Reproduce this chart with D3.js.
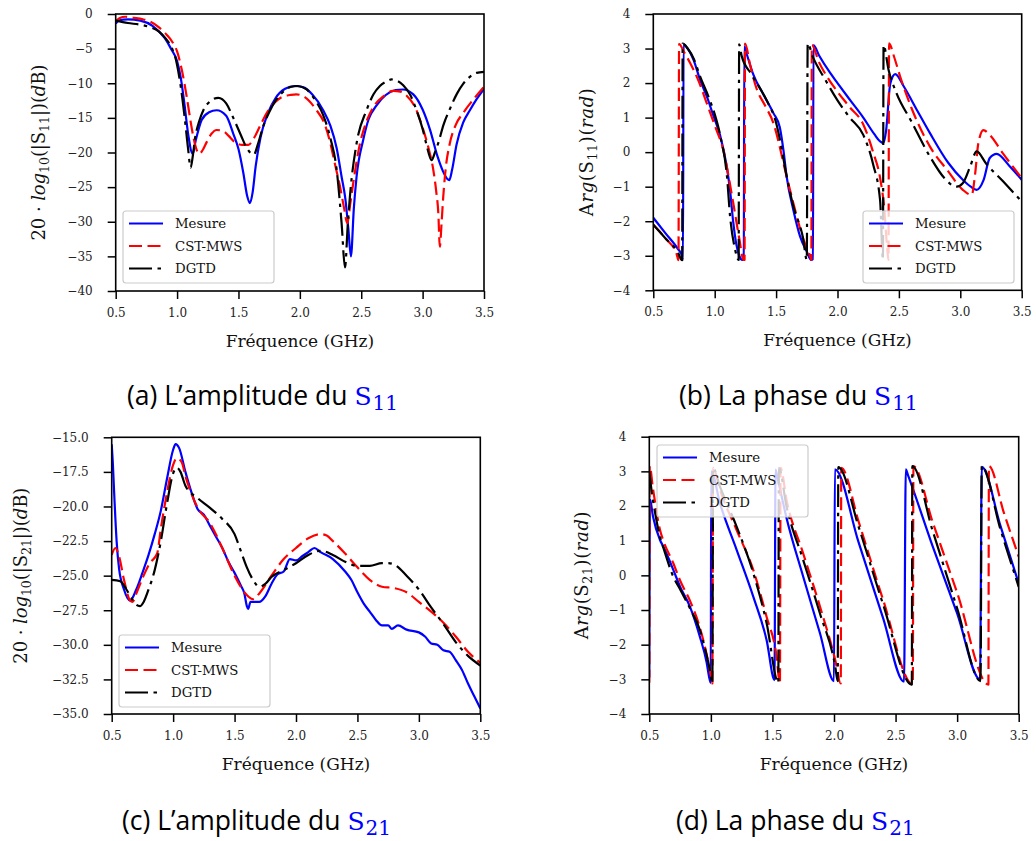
<!DOCTYPE html>
<html><head><meta charset="utf-8">
<script src="https://cdn.jsdelivr.net/npm/d3@7"></script>
<style>
body{margin:0;background:#fff;}
svg text{font-family:"DejaVu Serif",serif;}
</style></head><body>
<svg id="fig" width="1036" height="841"></svg>
<script>
// ---------- DATA ----------
const seriesNames = ["Mesure", "CST-MWS", "DGTD"];
const freqTicks = [0.5, 1.0, 1.5, 2.0, 2.5, 3.0, 3.5];
const ticksS11Mag = [0, -5, -10, -15, -20, -25, -30, -35, -40];
const ticksPhase = [4, 3, 2, 1, 0, -1, -2, -3, -4];
const ticksS21Mag = [-15, -17.5, -20, -22.5, -25, -27.5, -30, -32.5, -35];

// (a) |S11| dB
const s11MagMesure = [[0.50,-1.4],[0.52,-1.0],[0.56,-0.8],[0.6,-0.77],[0.7,-0.95],[0.8,-1.7],[0.9,-3.5],[0.95,-5.0],[1.0,-6.8],[1.03,-9.2],[1.06,-13],[1.09,-17.3],[1.127,-20.2],[1.15,-18.4],[1.2,-15.3],[1.26,-14.2],[1.322,-13.9],[1.4,-14.7],[1.458,-17.3],[1.5,-19.5],[1.54,-23],[1.57,-26.2],[1.594,-27.3],[1.615,-25.8],[1.64,-22],[1.68,-17.8],[1.74,-14.3],[1.8,-12.2],[1.88,-10.8],[1.96,-10.4],[2.03,-10.6],[2.1,-11.6],[2.19,-13.9],[2.25,-16.2],[2.3,-19.4],[2.34,-23.5],[2.37,-26.6],[2.395,-31],[2.416,-35],[2.44,-28],[2.462,-23.5],[2.516,-18.2],[2.56,-15.2],[2.625,-13.2],[2.7,-11.7],[2.78,-11.0],[2.84,-10.9],[2.924,-11.6],[3.0,-13.8],[3.06,-16.7],[3.12,-20.5],[3.168,-22.8],[3.2,-23.8],[3.217,-24],[3.24,-22.5],[3.277,-18.8],[3.33,-15.7],[3.385,-13.9],[3.44,-12.3],[3.5,-10.8]];
const s11MagCST = [[0.50,-1.1],[0.53,-0.6],[0.58,-0.4],[0.65,-0.55],[0.72,-0.75],[0.78,-1.1],[0.85,-1.9],[0.915,-3.0],[0.96,-4.0],[1.0,-5.4],[1.04,-8.2],[1.078,-11.9],[1.11,-15.5],[1.132,-17.7],[1.155,-19.4],[1.18,-20.2],[1.21,-19.6],[1.241,-18.5],[1.28,-17.3],[1.322,-16.75],[1.376,-16.9],[1.42,-17.6],[1.47,-18.5],[1.53,-18.9],[1.58,-18.9],[1.63,-17.8],[1.675,-16.2],[1.73,-14.3],[1.8,-12.7],[1.865,-11.9],[1.92,-11.7],[1.97,-11.6],[2.04,-12.0],[2.136,-13.9],[2.2,-15.8],[2.245,-18.4],[2.29,-22],[2.327,-24.9],[2.36,-28],[2.386,-30.2],[2.41,-27.5],[2.435,-24.4],[2.49,-18.7],[2.55,-15.2],[2.6,-13.4],[2.68,-11.9],[2.76,-11.1],[2.82,-11.2],[2.87,-11.8],[2.94,-13.5],[3.005,-16.7],[3.05,-19.5],[3.087,-22.5],[3.11,-25.5],[3.128,-28.8],[3.14,-33.6],[3.155,-30],[3.168,-26.4],[3.19,-22],[3.22,-18.8],[3.27,-16.0],[3.33,-14.3],[3.42,-12.2],[3.5,-10.5]];
const s11MagDGTD = [[0.50,-0.96],[0.6,-1.3],[0.7,-1.55],[0.78,-1.9],[0.85,-2.5],[0.915,-3.7],[0.96,-5.0],[0.997,-7.1],[1.03,-10.5],[1.064,-15.3],[1.09,-19.5],[1.11,-22.2],[1.128,-20.5],[1.146,-18.0],[1.18,-15.5],[1.214,-13.9],[1.27,-12.6],[1.336,-12.1],[1.4,-12.9],[1.458,-15.0],[1.52,-17.5],[1.566,-19.3],[1.625,-20.3],[1.66,-18.7],[1.7,-16.3],[1.75,-14.2],[1.81,-12.3],[1.865,-11.2],[1.93,-10.5],[1.98,-10.4],[2.055,-10.9],[2.12,-12.3],[2.19,-14.6],[2.25,-18],[2.3,-22.5],[2.34,-30.2],[2.368,-36.6],[2.39,-30.5],[2.41,-25.9],[2.462,-18.7],[2.543,-13.9],[2.6,-11.6],[2.652,-10.4],[2.7,-9.8],[2.747,-9.45],[2.8,-9.7],[2.842,-10.3],[2.9,-11.7],[2.95,-13.9],[3.0,-16.6],[3.032,-18.9],[3.073,-21.1],[3.1,-20],[3.128,-18.6],[3.17,-16.0],[3.22,-13.8],[3.28,-11.5],[3.33,-10.1],[3.39,-9.0],[3.44,-8.5],[3.5,-8.35]];

// (b) Arg(S11) rad
const s11PhaseMesure = [[0.5,-1.9],[0.6,-2.35],[0.7,-2.8],[0.73,-2.97],[0.742,-3.12],[0.746,3.12],[0.78,3.0],[0.83,2.65],[0.88,2.1],[0.935,1.62],[0.99,1.05],[1.043,0.5],[1.098,-0.42],[1.125,-1.1],[1.15,-2.0],[1.175,-2.65],[1.2,-3.0],[1.225,-3.12],[1.237,-3.1],[1.241,3.06],[1.26,2.85],[1.314,2.25],[1.4,1.65],[1.478,1.13],[1.53,0.72],[1.56,0.05],[1.586,-0.71],[1.64,-1.67],[1.695,-2.44],[1.75,-2.88],[1.785,-3.12],[1.8,-3.1],[1.804,3.1],[1.85,2.8],[1.939,2.3],[2.0,2.0],[2.1,1.52],[2.21,1.0],[2.3,0.52],[2.347,0.31],[2.374,0.26],[2.395,0.6],[2.43,1.99],[2.47,2.26],[2.54,1.9],[2.65,1.2],[2.753,0.55],[2.9,-0.3],[3.02,-0.8],[3.085,-1.0],[3.133,-1.09],[3.19,-0.8],[3.24,-0.17],[3.296,-0.05],[3.4,-0.4],[3.5,-0.8]];
const s11PhaseCST = [[0.5,-2.1],[0.6,-2.5],[0.69,-2.95],[0.705,-3.13],[0.71,3.13],[0.75,2.9],[0.8,2.58],[0.87,2.05],[0.935,1.42],[1.0,0.78],[1.07,0.06],[1.15,-1.45],[1.2,-2.5],[1.235,-3.12],[1.243,-3.12],[1.247,3.14],[1.29,2.5],[1.34,1.85],[1.41,1.35],[1.478,0.84],[1.52,0.3],[1.56,-0.32],[1.64,-1.47],[1.72,-2.5],[1.776,-3.0],[1.787,-3.12],[1.791,3.1],[1.85,2.6],[1.93,2.1],[2.0,1.75],[2.1,1.3],[2.21,0.8],[2.29,0.0],[2.347,-0.75],[2.38,-1.6],[2.405,-2.8],[2.415,-3.12],[2.42,3.15],[2.46,2.77],[2.51,2.19],[2.6,1.3],[2.753,0.16],[2.9,-0.55],[3.02,-1.09],[3.093,-1.24],[3.12,-0.65],[3.147,0.26],[3.188,0.64],[3.24,0.5],[3.35,-0.05],[3.5,-0.75]];
const s11PhaseDGTD = [[0.5,-2.1],[0.6,-2.5],[0.7,-2.9],[0.735,-3.13],[0.739,3.14],[0.78,3.0],[0.83,2.7],[0.88,2.2],[0.95,1.6],[1.0,1.1],[1.05,0.4],[1.1,-0.7],[1.125,-1.85],[1.165,-2.8],[1.195,-3.12],[1.199,3.12],[1.22,2.78],[1.3,2.25],[1.423,1.5],[1.5,0.85],[1.532,0.35],[1.586,-0.7],[1.64,-1.56],[1.72,-2.5],[1.75,-3.12],[1.757,3.15],[1.8,2.75],[1.9,2.1],[2.0,1.5],[2.1,1.0],[2.21,0.5],[2.29,-0.35],[2.347,-1.4],[2.37,-3.12],[2.375,3.1],[2.416,2.38],[2.48,1.71],[2.6,0.9],[2.753,-0.13],[2.87,-0.75],[2.97,-1.0],[3.02,-0.9],[3.08,-0.42],[3.133,0.02],[3.21,-0.33],[3.35,-0.85],[3.5,-1.43]];

// (c) |S21| dB
const s21MagMesure = [[0.5,-15.5],[0.51,-17],[0.52,-19],[0.54,-22.5],[0.56,-24.5],[0.6,-26.0],[0.65,-26.8],[0.7,-26.0],[0.75,-24.8],[0.8,-23.5],[0.85,-22],[0.9,-20.3],[0.95,-18],[1.0,-15.9],[1.02,-15.5],[1.05,-15.8],[1.1,-17.5],[1.15,-19],[1.2,-20.2],[1.25,-20.6],[1.3,-21.4],[1.35,-22.2],[1.4,-23],[1.45,-24],[1.5,-24.8],[1.55,-25.7],[1.58,-26.3],[1.6,-27.2],[1.61,-27.4],[1.63,-26.9],[1.7,-26.9],[1.75,-26.5],[1.8,-25.6],[1.85,-24.9],[1.9,-24.7],[1.95,-23.8],[2.0,-23.9],[2.05,-23.6],[2.1,-23.3],[2.15,-23.0],[2.2,-23.3],[2.3,-23.8],[2.4,-24.7],[2.45,-25.3],[2.5,-26.2],[2.55,-27],[2.6,-27.6],[2.65,-28.2],[2.7,-28.6],[2.75,-28.6],[2.78,-28.85],[2.83,-28.6],[2.9,-28.9],[3.0,-29.1],[3.05,-29.4],[3.1,-29.9],[3.15,-30.0],[3.2,-30.4],[3.25,-30.5],[3.3,-31.1],[3.35,-31.8],[3.4,-32.8],[3.45,-33.7],[3.5,-34.6]];
const s21MagCST = [[0.5,-23.5],[0.53,-23.0],[0.56,-23.6],[0.6,-25.3],[0.65,-26.8],[0.67,-26.9],[0.7,-26.3],[0.75,-25.2],[0.81,-24.1],[0.87,-23.4],[0.9,-21.6],[0.95,-19],[1.0,-17],[1.03,-16.5],[1.07,-16.8],[1.1,-17.8],[1.15,-19.1],[1.2,-20.1],[1.3,-21.2],[1.4,-23],[1.5,-25],[1.6,-26.4],[1.65,-26.7],[1.7,-26.3],[1.8,-25],[1.9,-23.8],[2.0,-23],[2.1,-22.3],[2.2,-22.0],[2.25,-22.1],[2.3,-22.5],[2.4,-23.4],[2.5,-24.4],[2.6,-25.3],[2.7,-25.8],[2.8,-25.9],[2.9,-26.2],[3.0,-26.9],[3.1,-27.6],[3.2,-28.4],[3.3,-29.4],[3.4,-30.5],[3.5,-31.3]];
const s21MagDGTD = [[0.5,-25.3],[0.57,-25.4],[0.62,-26.0],[0.66,-26.6],[0.7,-27.1],[0.73,-27.2],[0.76,-26.9],[0.8,-26],[0.85,-24.6],[0.9,-22.5],[0.95,-19.8],[1.0,-17.6],[1.03,-17.2],[1.06,-17.5],[1.1,-18.5],[1.2,-19.4],[1.3,-20.1],[1.4,-20.9],[1.5,-22.0],[1.55,-23.2],[1.6,-24.4],[1.65,-25.3],[1.7,-25.8],[1.75,-25.6],[1.8,-25.1],[1.9,-24.6],[2.0,-24.1],[2.1,-23.5],[2.2,-23.2],[2.3,-23.5],[2.4,-24],[2.5,-24.3],[2.6,-24.3],[2.7,-24.1],[2.75,-24.1],[2.8,-24.2],[2.9,-25],[3.0,-26],[3.1,-27.3],[3.2,-28.5],[3.3,-29.8],[3.4,-30.8],[3.5,-31.5]];

// (d) Arg(S21) rad
const s21PhaseMesure = [[0.5,-2.95],[0.505,2.2],[0.53,1.7],[0.587,1.02],[0.614,0.83],[0.695,0.16],[0.75,-0.33],[0.83,-0.9],[0.91,-1.76],[0.965,-2.5],[0.99,-3.0],[0.999,-3.1],[1.003,3.0],[1.074,2.08],[1.21,0.73],[1.345,-0.62],[1.453,-1.87],[1.517,-3.02],[1.525,3.05],[1.545,2.75],[1.615,1.65],[1.75,-0.04],[1.886,-1.67],[2.0,-3.05],[2.007,3.06],[2.2,0.95],[2.4,-1.25],[2.569,-3.07],[2.583,3.06],[2.6,2.9],[2.8,0.85],[3.0,-1.1],[3.186,-3.0],[3.2,3.13],[3.35,1.45],[3.5,-0.23]];
const s21PhaseCST = [[0.5,-3.1],[0.503,3.15],[0.53,2.5],[0.587,1.31],[0.614,1.0],[0.695,0.35],[0.75,-0.15],[0.83,-0.73],[0.91,-1.5],[0.965,-2.27],[1.0,-2.9],[1.012,-3.12],[1.018,3.1],[1.074,2.46],[1.21,1.3],[1.345,0.15],[1.453,-1.2],[1.53,-2.25],[1.561,-3.1],[1.566,3.1],[1.615,2.17],[1.75,0.63],[1.886,-0.9],[2.01,-2.44],[2.055,-3.12],[2.059,3.1],[2.2,1.55],[2.4,-0.72],[2.64,-3.15],[2.645,3.15],[2.8,1.55],[3.0,-0.5],[3.254,-3.15],[3.258,3.15],[3.38,1.8],[3.5,0.54]];
const s21PhaseDGTD = [[0.5,3.0],[0.52,2.4],[0.55,1.75],[0.587,1.1],[0.614,0.8],[0.695,-0.04],[0.75,-0.4],[0.83,-0.95],[0.91,-1.57],[0.965,-2.3],[0.99,-2.7],[1.012,-3.12],[1.018,3.1],[1.074,2.56],[1.21,1.4],[1.345,0.06],[1.453,-1.38],[1.548,-3.1],[1.552,3.1],[1.615,1.98],[1.75,0.44],[1.886,-1.1],[2.01,-2.63],[2.03,-3.05],[2.035,3.12],[2.2,1.4],[2.4,-0.85],[2.632,-3.15],[2.636,3.15],[2.8,1.3],[3.0,-0.95],[3.19,-3.05],[3.2,3.15],[3.35,1.35],[3.5,-0.33]];

// ---------- LAYOUT ----------
const colors = ["#0000ff", "#ff0000", "#000000"];
const dashes = [null, "13,5.5", "23,5.5,3.5,5.5"];
const fmtInt = d3.format("d");
const fmt1 = d3.format(".1f");

const panels = [
  {id:"a", x0:115.7, x1:484, y0:14, y1:291, ydom:[-40,0], yticks:ticksS11Mag, yfmt:fmtInt,
   data:[s11MagMesure, s11MagCST, s11MagDGTD], ylab:"mag", sub:"11", ylabX:40, legend:[123,211],
   caption:"(a) L\u2019amplitude du ", capX:127, capY:405},
  {id:"b", x0:653.3, x1:1021.7, y0:14, y1:290.3, ydom:[-4,4], yticks:ticksPhase, yfmt:fmtInt,
   data:[s11PhaseMesure, s11PhaseCST, s11PhaseDGTD], ylab:"arg", sub:"11", ylabX:588, legend:[863,211],
   caption:"(b) La phase du ", capX:679, capY:405},
  {id:"c", x0:111.7, x1:480.3, y0:437.3, y1:714, ydom:[-35,-15], yticks:ticksS21Mag, yfmt:fmt1,
   data:[s21MagMesure, s21MagCST, s21MagDGTD], ylab:"mag", sub:"21", ylabX:22, legend:[119,635],
   caption:"(c) L\u2019amplitude du ", capX:122, capY:830},
  {id:"d", x0:649.3, x1:1018.7, y0:436.7, y1:714, ydom:[-4,4], yticks:ticksPhase, yfmt:fmtInt,
   data:[s21PhaseMesure, s21PhaseCST, s21PhaseDGTD], ylab:"arg", sub:"21", ylabX:583, legend:[657,445],
   caption:"(d) La phase du ", capX:676, capY:830}
];

const svg = d3.select("#fig");
const defs = svg.append("defs");

function addSub(t, txt, fs, shift){
  t.append("tspan").attr("dy", shift).attr("font-size", fs*0.7).text(txt);
}

panels.forEach(p => {
  const x = d3.scaleLinear().domain([0.5, 3.5]).range([p.x0, p.x1]);
  const y = d3.scaleLinear().domain(p.ydom).range([p.y1, p.y0]);
  const g = svg.append("g");

  defs.append("clipPath").attr("id", "clip-" + p.id)
    .append("rect").attr("x", p.x0).attr("y", p.y0).attr("width", p.x1 - p.x0).attr("height", p.y1 - p.y0);

  // lines
  const line = d3.line().x(d => x(d[0])).y(d => y(d[1])).curve(d3.curveMonotoneX);
  const lg = g.append("g").attr("clip-path", "url(#clip-" + p.id + ")");
  p.data.forEach((ser, i) => {
    lg.append("path").datum(ser).attr("d", line)
      .attr("fill", "none").attr("stroke", colors[i]).attr("stroke-width", 2.2)
      .attr("stroke-dasharray", dashes[i]).attr("stroke-linejoin", "round");
  });

  // axes
  const ax = g.append("g").attr("transform", `translate(0,${p.y1})`)
    .call(d3.axisBottom(x).tickValues(freqTicks).tickFormat(d3.format(".1f")).tickSize(8).tickSizeOuter(0).tickPadding(9));
  const ay = g.append("g").attr("transform", `translate(${p.x0},0)`)
    .call(d3.axisLeft(y).tickValues(p.yticks).tickFormat(p.yfmt).tickSize(8).tickSizeOuter(0).tickPadding(15));
  [ax, ay].forEach(a => {
    a.select(".domain").remove();
    a.selectAll(".tick line").attr("stroke", "#000").attr("stroke-width", 1.5);
    a.selectAll(".tick text").attr("font-size", 12).attr("fill", "#222")
      .style("font-family", '"DejaVu Serif", serif');
  });

  // frame
  g.append("rect").attr("x", p.x0).attr("y", p.y0).attr("width", p.x1 - p.x0).attr("height", p.y1 - p.y0)
    .attr("fill", "none").attr("stroke", "#000").attr("stroke-width", 1.6);

  // x label
  g.append("text").attr("x", (p.x0 + p.x1) / 2).attr("y", p.y1 + 56).attr("text-anchor", "middle")
    .attr("font-size", 17).attr("fill", "#111").text("Fréquence (GHz)");

  // y label
  const fs = 18;
  const cy = (p.y0 + p.y1) / 2;
  const yl = g.append("text").attr("transform", `translate(${p.ylabX},${cy}) rotate(-90)`)
    .attr("text-anchor", "middle").attr("dominant-baseline", "middle")
    .attr("font-size", fs).attr("fill", "#111")
    .attr("textLength", p.ylab === "mag" ? 176 : 128).attr("lengthAdjust", "spacing");
  const dn = fs * 0.28;
  if (p.ylab === "mag") {
    yl.append("tspan").text("20 \u00B7 ");
    yl.append("tspan").attr("font-style", "italic").text("log");
    addSub(yl, "10", fs, dn);
    yl.append("tspan").attr("dy", -dn).text("(|S");
    addSub(yl, p.sub, fs, dn);
    yl.append("tspan").attr("dy", -dn).text("|)(");
    yl.append("tspan").attr("font-style", "italic").text("d");
    yl.append("tspan").text("B)");
  } else {
    yl.append("tspan").text("A");
    yl.append("tspan").attr("font-style", "italic").text("rg");
    yl.append("tspan").text("(S");
    addSub(yl, p.sub, fs, dn);
    yl.append("tspan").attr("dy", -dn).text(")(");
    yl.append("tspan").attr("font-style", "italic").text("rad");
    yl.append("tspan").text(")");
  }

  // legend
  const [lx, ly] = p.legend;
  const leg = g.append("g");
  leg.append("rect").attr("x", lx).attr("y", ly).attr("width", 151).attr("height", 72).attr("rx", 3)
    .attr("fill", "#fff").attr("fill-opacity", 0.8).attr("stroke", "#cccccc").attr("stroke-width", 1.2);
  seriesNames.forEach((nm, i) => {
    const yy = ly + 12.5 + i * 22.5;
    leg.append("line").attr("x1", lx + 6).attr("x2", lx + 40).attr("y1", yy).attr("y2", yy)
      .attr("stroke", colors[i]).attr("stroke-width", 2.2).attr("stroke-dasharray", dashes[i]);
    leg.append("text").attr("x", lx + 52).attr("y", yy + 4.8).attr("font-size", 13.3).attr("fill", "#111").text(nm);
  });

  // caption
  const cap = svg.append("text").attr("x", p.capX).attr("y", p.capY).attr("font-size", 26.5).attr("fill", "#000")
    .style("font-family", '"Open Sans", sans-serif');
  cap.append("tspan").text(p.caption);
  cap.append("tspan").attr("fill", "#0000ff").style("font-family", '"DejaVu Serif", serif')
    .attr("font-size", 25).text("S");
  cap.append("tspan").attr("fill", "#0000ff").style("font-family", '"DejaVu Serif", serif')
    .attr("font-size", 20).attr("dx", 1).attr("dy", 5).text(p.sub);
});
</script>
</body></html>
